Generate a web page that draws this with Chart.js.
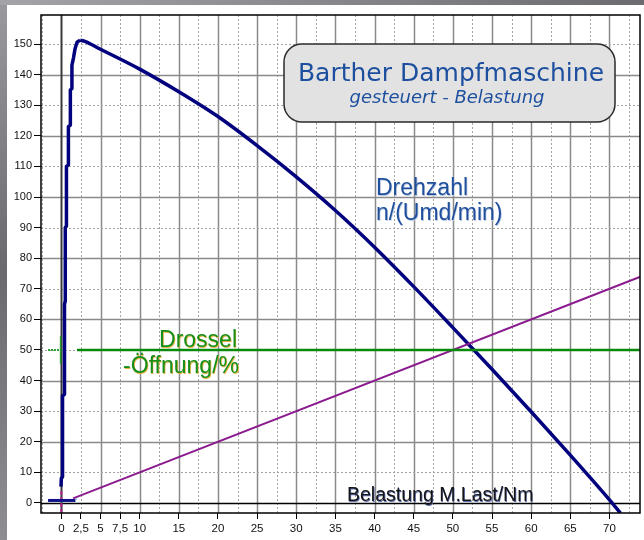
<!DOCTYPE html>
<html>
<head>
<meta charset="utf-8">
<script src="https://cdn.jsdelivr.net/npm/chart.js@4"></script>
<style>
  html, body { margin: 0; padding: 0; background: #7c7c80; }
  canvas { display: block; }
</style>
</head>
<body>
<canvas id="chart" width="644" height="540"></canvas>
<script>
// Drehzahl n/(Umd/min) ueber Belastung M.Last/Nm
// Anlauf (treppig) bis zum Maximum
const anlaufX = [-0.05, 0.0, 0.15, 0.15, 0.4, 0.4, 0.5, 0.5, 0.65, 0.65, 0.9, 0.9, 1.15, 1.15, 1.35, 1.35, 1.55, 1.75, 2.0, 2.4]
const anlaufY = [5.3, 8, 8.5, 35, 35.5, 65, 66, 90, 90.5, 110, 110.5, 123, 123.5, 135, 135.5, 143, 145.5, 148.5, 150.6, 151.3]
// Abfall ab dem Maximum
const abfallX = [2.4, 3.0, 5, 10, 15, 20, 25, 30, 35, 40, 45, 50, 55, 60, 65, 70, 71.4]
const abfallY = [151.3, 150.9, 148.3, 141.8, 134.4, 126.3, 116.8, 106.6, 95.6, 83.6, 70.7, 57.3, 43.7, 29.8, 15.6, 1.0, -3.3]

// Belastungsgerade
const lastX = [1.5, 74]
const lastY = [1.5, 74]

// Drossel-Oeffnung konstant 50 %
const drosselX = [2, 74]
const drosselY = [50, 50]

// Achsen
const xTicks = [0, 2.5, 5, 7.5, 10, 15, 20, 25, 30, 35, 40, 45, 50, 55, 60, 65, 70]
const yTicks = [0, 10, 20, 30, 40, 50, 60, 70, 80, 90, 100, 110, 120, 130, 140, 150]

const titel = 'Barther Dampfmaschine'
const untertitel = 'gesteuert - Belastung'
const drehzahlText = ['Drehzahl', 'n/(Umd/min)']
const drosselText = ['Drossel', '-Öffnung/%']
const achsText = 'Belastung M.Last/Nm'

const SANS = '"Liberation Sans", Arial, sans-serif'

function punkte(xs, ys){
    let p = []
    for(let i = 0; i < xs.length; i++){
        p.push({x: xs[i], y: ys[i]})
    }
    return p
}

/*========================================================*/

const zeichnen = {
    id: 'zeichnen',
    beforeDraw(chart){
        const c = chart.ctx
        const w = chart.width, h = chart.height
        // grauer Rand
        let g = c.createLinearGradient(0, 0, 0, h)
        g.addColorStop(0, '#9a9a9e')
        g.addColorStop(0.5, '#6a6a6e')
        g.addColorStop(1, '#8e8e92')
        c.fillStyle = g
        c.fillRect(0, 0, w, h)
        let g2 = c.createLinearGradient(0, 0, w, 0)
        g2.addColorStop(0, '#a4a4a8')
        g2.addColorStop(1, '#6c6c70')
        c.fillStyle = g2
        c.fillRect(0, 0, w, 5)
        c.fillStyle = '#ffffff'
        c.fillRect(7, 5, w - 7, h - 5)
    },
    beforeDatasetsDraw(chart){
        const c = chart.ctx
        const a = chart.chartArea
        const sx = chart.scales.x, sy = chart.scales.y
        c.save()
        // senkrechte Linien alle 2,5
        for(let v = -2.5; v <= 75; v += 2.5){
            const px = Math.round(sx.getPixelForValue(v)) + 0.5
            if(px <= a.left + 1 || px >= a.right - 1 || v == 0) continue
            c.beginPath()
            if(v % 5 == 0){
                c.setLineDash([])
                c.strokeStyle = '#8a8a8a'
                c.lineWidth = 1.5
            }else{
                c.setLineDash([2, 2])
                c.strokeStyle = '#a4a4a4'
                c.lineWidth = 1
            }
            c.moveTo(px, a.top)
            c.lineTo(px, a.bottom)
            c.stroke()
        }
        // waagerechte Linien alle 10
        for(let v = 10; v <= 150; v += 10){
            const py = Math.round(sy.getPixelForValue(v)) + 0.5
            c.beginPath()
            if(v % 20 == 0){
                c.setLineDash([])
                c.strokeStyle = '#8a8a8a'
                c.lineWidth = 1.5
            }else{
                c.setLineDash([2, 2])
                c.strokeStyle = '#a4a4a4'
                c.lineWidth = 1
            }
            c.moveTo(a.left, py)
            c.lineTo(a.right, py)
            c.stroke()
        }
        c.setLineDash([])
        // Nulllinien
        const x0 = Math.round(sx.getPixelForValue(0)) + 0.5
        c.strokeStyle = '#3a3a3a'
        c.lineWidth = 2
        c.beginPath()
        c.moveTo(x0, a.top)
        c.lineTo(x0, a.bottom)
        c.stroke()
        const y0 = Math.round(sy.getPixelForValue(0)) + 0.5
        c.strokeStyle = '#000000'
        c.lineWidth = 1.5
        c.beginPath()
        c.moveTo(a.left, y0)
        c.lineTo(a.right, y0)
        c.stroke()
        c.restore()
    },
    afterDatasetsDraw(chart){
        const c = chart.ctx
        const a = chart.chartArea
        c.save()
        // Rahmen
        c.strokeStyle = '#000000'
        c.lineWidth = 1.5
        c.strokeRect(a.left, a.top, a.right - a.left, a.bottom - a.top)

        // Titelkasten
        c.beginPath()
        c.roundRect(284, 44, 331, 78, 18)
        c.fillStyle = '#e2e2e2'
        c.fill()
        c.strokeStyle = '#2a2a2a'
        c.lineWidth = 1.5
        c.stroke()
        c.textAlign = 'center'
        c.textBaseline = 'alphabetic'
        c.fillStyle = '#1d4f9f'
        c.font = '25px "Comic Sans MS", "DejaVu Sans", sans-serif'
        c.fillText(titel, 451, 81)
        c.font = 'italic 18px "Comic Sans MS", "DejaVu Sans", sans-serif'
        c.fillText(untertitel, 447, 103)

        // Beschriftungen
        c.textAlign = 'left'
        c.font = '23px ' + SANS
        c.fillStyle = '#c0cce4'
        c.fillText(drehzahlText[0], 376.7, 195.7)
        c.fillText(drehzahlText[1], 376.7, 220.7)
        c.fillStyle = '#1f4f9c'
        c.fillText(drehzahlText[0], 376, 195)
        c.fillText(drehzahlText[1], 376, 220)

        c.textAlign = 'right'
        c.fillStyle = '#e8b040'
        c.fillText(drosselText[0], 237.7, 347.7)
        c.fillText(drosselText[1], 239.7, 373.7)
        c.fillStyle = '#16901c'
        c.fillText(drosselText[0], 237, 347)
        c.fillText(drosselText[1], 239, 373)

        c.textAlign = 'left'
        c.font = '19.5px ' + SANS
        c.fillStyle = '#6070b0'
        c.fillText(achsText, 347.7, 501.7)
        c.fillStyle = '#151515'
        c.fillText(achsText, 347, 501)
        c.restore()
    }
}

/*========================================================*/

var grafik = new Chart(document.getElementById('chart'), {
    type: 'scatter',
    data: {
        datasets: [
            {
                label: 'Drossel',
                data: punkte(drosselX, drosselY),
                showLine: true,
                borderColor: '#0a8a0a',
                borderWidth: 2.5,
                pointRadius: 0
            },
            {
                label: 'Belastung',
                data: punkte(lastX, lastY),
                showLine: true,
                borderColor: '#8a1a8e',
                borderWidth: 2,
                pointRadius: 0
            },
            {
                label: 'Drossel Marke',
                data: punkte([-1.7, 0], [50, 50]),
                showLine: true,
                borderColor: '#2aa02a',
                borderDash: [2, 1],
                borderWidth: 2,
                pointRadius: 0
            },
            {
                label: 'Drossel Marke senkrecht',
                data: punkte([-0.1, -0.1], [45.5, 54.5]),
                showLine: true,
                borderColor: '#2aa02a',
                borderWidth: 1.5,
                pointRadius: 0
            },
            {
                label: 'Nullpunkt',
                data: punkte([-1.7, 1.8], [0.8, 0.8]),
                showLine: true,
                borderColor: '#10108a',
                borderWidth: 3,
                pointRadius: 0
            },
            {
                label: 'Nullpunkt cyan',
                data: punkte([0, 2], [0.4, 1.2]),
                showLine: true,
                borderColor: '#40d8e8',
                borderDash: [3, 2],
                borderWidth: 1.5,
                pointRadius: 0
            },
            {
                label: 'Nullpunkt senkrecht',
                data: punkte([0, 0], [-3.3, 4.5]),
                showLine: true,
                borderColor: '#b02090',
                borderDash: [4, 2],
                borderWidth: 2,
                pointRadius: 0
            },
            {
                label: 'Drehzahl Anlauf',
                data: punkte(anlaufX, anlaufY),
                showLine: true,
                borderColor: '#02027e',
                borderWidth: 3.5,
                borderJoinStyle: 'round',
                pointRadius: 0
            },
            {
                label: 'Drehzahl',
                data: punkte(abfallX, abfallY),
                showLine: true,
                borderColor: '#02027e',
                borderWidth: 3.5,
                borderJoinStyle: 'round',
                cubicInterpolationMode: 'monotone',
                pointRadius: 0
            }
        ]
    },
    options: {
        responsive: false,
        animation: false,
        devicePixelRatio: 1,
        layout: { padding: { left: 0, top: 15, right: 4, bottom: 0 } },
        plugins: { legend: { display: false }, tooltip: { enabled: false } },
        scales: {
            x: {
                type: 'linear',
                min: -2.6,
                max: 73.9,
                afterBuildTicks: (s) => { s.ticks = xTicks.map(v => ({value: v})) },
                afterFit: (s) => { s.height = 27 },
                ticks: {
                    autoSkip: false,
                    maxRotation: 0,
                    padding: 3,
                    color: '#111111',
                    font: { family: SANS, size: 11.5 },
                    callback: (v) => String(v).replace('.', ',')
                },
                grid: { drawOnChartArea: false, tickLength: 6, tickColor: '#000000', tickWidth: 1 },
                border: { display: false }
            },
            y: {
                type: 'linear',
                min: -3.3,
                max: 159.5,
                afterBuildTicks: (s) => { s.ticks = yTicks.map(v => ({value: v})) },
                afterFit: (s) => { s.width = 41 },
                ticks: {
                    padding: 2,
                    color: '#111111',
                    font: { family: SANS, size: 11 }
                },
                grid: { drawOnChartArea: false, tickLength: 7, tickColor: '#000000', tickWidth: 1 },
                border: { display: false }
            }
        }
    },
    plugins: [zeichnen]
});
</script>
</body>
</html>
